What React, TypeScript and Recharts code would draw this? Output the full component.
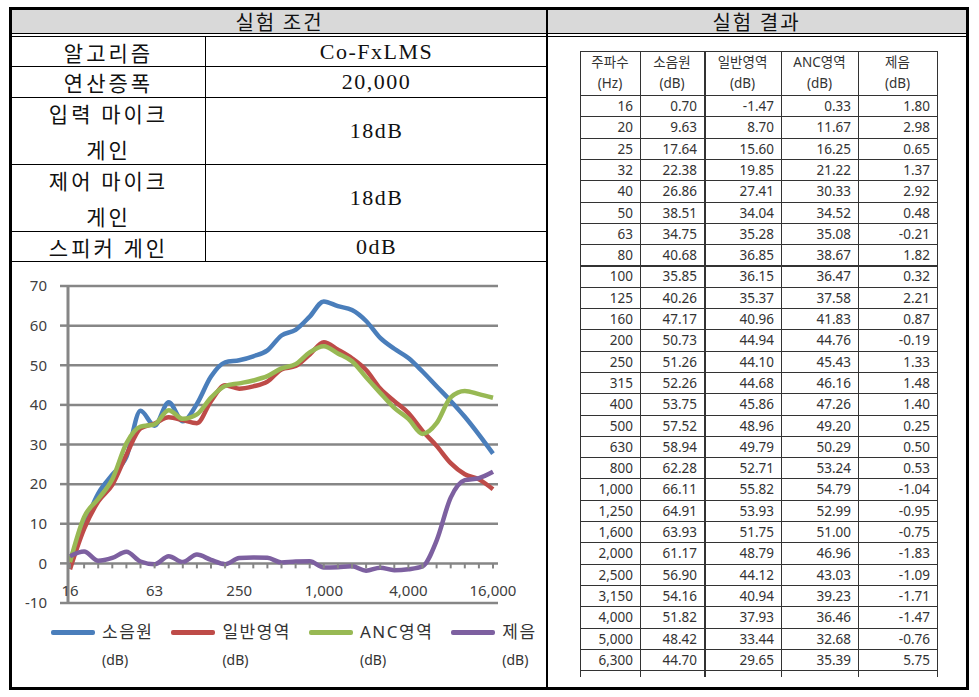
import React from 'react'
import { LineChart, Line, XAxis, YAxis, CartesianGrid } from 'recharts'

// 1/3 octave band centre frequencies (Hz)
const freqLabels = [
  '16', '20', '25', '32', '40', '50', '63', '80', '100', '125', '160', '200', '250', '315', '400',
  '500', '630', '800', '1,000', '1,250', '1,600', '2,000', '2,500', '3,150', '4,000', '5,000',
  '6,300', '8,000', '10,000', '12,500', '16,000',
]

// 소음원 (dB)
const sourceDb = [
  0.7, 9.63, 17.64, 22.38, 26.86, 38.51, 34.75, 40.68, 35.85, 40.26, 47.17, 50.73, 51.26, 52.26,
  53.75, 57.52, 58.94, 62.28, 66.11, 64.91, 63.93, 61.17, 56.9, 54.16, 51.82, 48.42, 44.7,
  41.0, 37.0, 32.5, 27.7,
]

// 일반영역 (dB)
const generalDb = [
  -1.47, 8.7, 15.6, 19.85, 27.41, 34.04, 35.28, 36.85, 36.15, 35.37, 40.96, 44.94, 44.1, 44.68,
  45.86, 48.96, 49.79, 52.71, 55.82, 53.93, 51.75, 48.79, 44.12, 40.94, 37.93, 33.44, 29.65,
  25.3, 22.5, 21.2, 18.7,
]

// ANC영역 (dB)
const ancDb = [
  0.33, 11.67, 16.25, 21.22, 30.33, 34.52, 35.08, 38.67, 36.47, 37.58, 41.83, 44.76, 45.43, 46.16,
  47.26, 49.2, 50.29, 53.24, 54.79, 52.99, 51.0, 46.96, 43.03, 39.23, 36.46, 32.68, 35.39,
  41.9, 43.5, 42.7, 41.8,
]

// 제음 (dB)
const reductionDb = [
  1.8, 2.98, 0.65, 1.37, 2.92, 0.48, -0.21, 1.82, 0.32, 2.21, 0.87, -0.19, 1.33, 1.48, 1.4,
  0.25, 0.5, 0.53, -1.04, -0.95, -0.75, -1.83, -1.09, -1.71, -1.47, -0.76, 5.75,
  16.6, 21.0, 21.5, 23.1,
]

const yTicks = [-10, 0, 10, 20, 30, 40, 50, 60, 70]

// the result table only shows rows up to 6,300 Hz
const TABLE_ROWS = 27

const series = [
  { key: 'source', name: '소음원', color: '#4A7EBB', values: sourceDb },
  { key: 'general', name: '일반영역', color: '#BE4B48', values: generalDb },
  { key: 'anc', name: 'ANC영역', color: '#98B954', values: ancDb },
  { key: 'reduction', name: '제음', color: '#7D60A0', values: reductionDb },
]

const chartData = freqLabels.map((f, i) => {
  const row: any = { freq: f }
  series.forEach((s) => (row[s.key] = s.values[i]))
  return row
})

const SANS = '"Noto Sans", "Noto Sans CJK KR", sans-serif'
const KO = '"Noto Sans CJK KR", sans-serif'
const SERIF = '"Liberation Serif", "Noto Sans CJK KR", serif'

// chart geometry
const CHART_W = 535
const CHART_H = 426
const MARGIN = { top: 25, right: 49, bottom: 0, left: 0 }
const X_AXIS_H = 84
const PLOT_H = CHART_H - MARGIN.top - X_AXIS_H
const ZERO_OFFSET = (PLOT_H * (0 - yTicks[0])) / (yTicks[yTicks.length - 1] - yTicks[0])
const GRID = '#868686'

// x axis sits on the 0 line, labels every 6th band
const XTick = ({ x, y, payload, index }: any) => {
  const zy = y - ZERO_OFFSET
  return (
    <g>
      <line x1={x} x2={x} y1={zy} y2={zy + 5} stroke={GRID} strokeWidth={2} />
      {index % 6 === 0 && (
        <text x={x} y={zy + 27} textAnchor="middle" dominantBaseline="central"
          fontSize={15} fill="#404040" fontFamily={SANS}>
          {payload.value}
        </text>
      )}
    </g>
  )
}

function ResultChart() {
  return (
    <LineChart width={CHART_W} height={CHART_H} data={chartData} margin={MARGIN}>
      <CartesianGrid vertical={false} stroke={GRID} strokeWidth={2.5} />
      <XAxis dataKey="freq" interval={0} height={X_AXIS_H} axisLine={false} tickLine={false}
        tickSize={0} tickMargin={0} padding={{ left: 2, right: 5 }} tick={<XTick />} />
      <YAxis domain={[-10, 70]} ticks={yTicks} width={56} interval={0}
        axisLine={{ stroke: GRID, strokeWidth: 3 }} tickLine={{ stroke: GRID, strokeWidth: 2.5 }}
        tickSize={8} tickMargin={13}
        tick={{ fontSize: 15, fill: '#404040', fontFamily: SANS }} />
      {series.map((s) => (
        <Line key={s.key} type="monotone" dataKey={s.key} name={s.name} stroke={s.color}
          strokeWidth={4.5} dot={false} strokeLinejoin="round" isAnimationActive={false} />
      ))}
    </LineChart>
  )
}

function ChartLegend() {
  return (
    <div style={{ position: 'absolute', left: 51, top: 623, display: 'flex', gap: 18 }}>
      {series.map((s) => (
        <div key={s.key} style={{ display: 'flex', alignItems: 'flex-start' }}>
          <div style={{ width: 44, height: 5, borderRadius: 2, background: s.color, marginTop: 7 }} />
          <div style={{ marginLeft: 7, fontFamily: SANS, color: '#333' }}>
            <div style={{ fontSize: 17, lineHeight: '18px', letterSpacing: 1.5 }}>{s.name}</div>
            <div style={{ fontSize: 14, lineHeight: '18px', marginTop: 10 }}>(dB)</div>
          </div>
        </div>
      ))}
    </div>
  )
}

const abs = (l: number, t: number, w: number, h: number, extra: any = {}) => ({
  position: 'absolute' as const, left: l, top: t, width: w, height: h, ...extra,
})

function Cell({ l, t, w, h, lines, latin }: any) {
  return (
    <div style={abs(l, t, w, h, {
      display: 'flex', flexDirection: 'column', alignItems: 'center', justifyContent: 'center',
      fontFamily: latin ? SERIF : KO, fontSize: latin ? 22 : 21, letterSpacing: latin ? 1.5 : 3,
      lineHeight: '36px', color: '#111',
    })}>
      {lines.map((ln: string, i: number) => <div key={i}>{ln}</div>)}
    </div>
  )
}

const conditions = [
  { label: ['알고리즘'], value: 'Co-FxLMS', top: 37, bottom: 66 },
  { label: ['연산증폭'], value: '20,000', top: 67, bottom: 97 },
  { label: ['입력 마이크', '게인'], value: '18dB', top: 98, bottom: 164 },
  { label: ['제어 마이크', '게인'], value: '18dB', top: 165, bottom: 231 },
  { label: ['스피커 게인'], value: '0dB', top: 232, bottom: 261 },
]

// result table geometry
const T_LEFT = 580
const T_TOP = 51
const COL_W = [60, 64, 77, 77, 79]
const HEAD_H = 44
const ROW_H = 21.3
const headers = [['주파수', '(Hz)'], ['소음원', '(dB)'], ['일반영역', '(dB)'], ['ANC영역', '(dB)'], ['제음', '(dB)']]

function ResultTable() {
  const colX = COL_W.reduce((acc, w) => [...acc, acc[acc.length - 1] + w], [T_LEFT])
  const tableW = colX[colX.length - 1] - T_LEFT
  const bodyTop = T_TOP + HEAD_H
  const lastLine = bodyTop + ROW_H * TABLE_ROWS
  const els: any[] = []
  // horizontal lines
  els.push(<div key="h-top" style={abs(T_LEFT, T_TOP, tableW, 1, { background: '#333' })} />)
  for (let r = 0; r <= TABLE_ROWS; r++) {
    const y = Math.round(bodyTop + r * ROW_H)
    els.push(<div key={'h' + r} style={abs(T_LEFT, y, tableW, r === 8 ? 2 : 1, { background: '#333' })} />)
  }
  // vertical lines
  colX.forEach((x, i) => {
    els.push(<div key={'v' + i} style={abs(x, T_TOP, i === 2 ? 2 : 1, lastLine + 7 - T_TOP, { background: '#333' })} />)
  })
  // header text
  headers.forEach((h, c) => {
    els.push(
      <div key={'th' + c} style={abs(colX[c], T_TOP, COL_W[c], HEAD_H, {
        display: 'flex', flexDirection: 'column', alignItems: 'center', justifyContent: 'center',
        fontFamily: SANS, fontSize: 13.5, lineHeight: '21px', color: '#333',
      })}>
        <div>{h[0]}</div>
        <div>{h[1]}</div>
      </div>
    )
  })
  // body
  for (let r = 0; r < TABLE_ROWS; r++) {
    const vals = [freqLabels[r], ...series.map((s) => s.values[r].toFixed(2))]
    vals.forEach((v, c) => {
      els.push(
        <div key={`td${r}-${c}`} style={abs(colX[c], bodyTop + r * ROW_H + 1, COL_W[c] - 7, ROW_H, {
          textAlign: 'right', fontFamily: SANS, fontSize: 13.5, lineHeight: ROW_H + 'px', color: '#333',
        })}>
          {v}
        </div>
      )
    })
  }
  return <>{els}</>
}

export default function App() {
  return (
    <div style={abs(0, 0, 979, 697, { background: '#fff', overflow: 'hidden' })}>
      {/* header band */}
      <div style={abs(12, 10, 954, 23, { background: '#d9d9d9' })} />
      <div style={abs(12, 33, 954, 1, { background: '#000' })} />
      <div style={abs(12, 36, 954, 1, { background: '#000' })} />
      <div style={abs(12, 10, 535, 23, {
        textAlign: 'center', fontFamily: KO, fontSize: 20, lineHeight: '23px', letterSpacing: 2, color: '#111',
      })}>실험 조건</div>
      <div style={abs(547, 10, 419, 23, {
        textAlign: 'center', fontFamily: KO, fontSize: 20, lineHeight: '23px', letterSpacing: 2, color: '#111',
      })}>실험 결과</div>

      {/* left conditions table */}
      {conditions.map((c, i) => (
        <React.Fragment key={i}>
          <Cell l={12} t={c.top} w={193} h={c.bottom - c.top} lines={c.label} />
          <Cell l={206} t={c.top} w={341} h={c.bottom - c.top} lines={[c.value]} latin />
          <div style={abs(12, c.bottom, 535, 1, { background: '#000' })} />
        </React.Fragment>
      ))}
      <div style={abs(205, 37, 1, 224, { background: '#000' })} />

      {/* chart */}
      <div style={abs(12, 261, CHART_W, CHART_H)}>
        <ResultChart />
      </div>
      <ChartLegend />

      {/* right result table */}
      <ResultTable />

      {/* split + outer frame */}
      <div style={abs(546, 10, 2, 677, { background: '#000' })} />
      <div style={abs(9, 7, 960, 683, { border: '3px solid #000', boxSizing: 'border-box' })} />
    </div>
  )
}
